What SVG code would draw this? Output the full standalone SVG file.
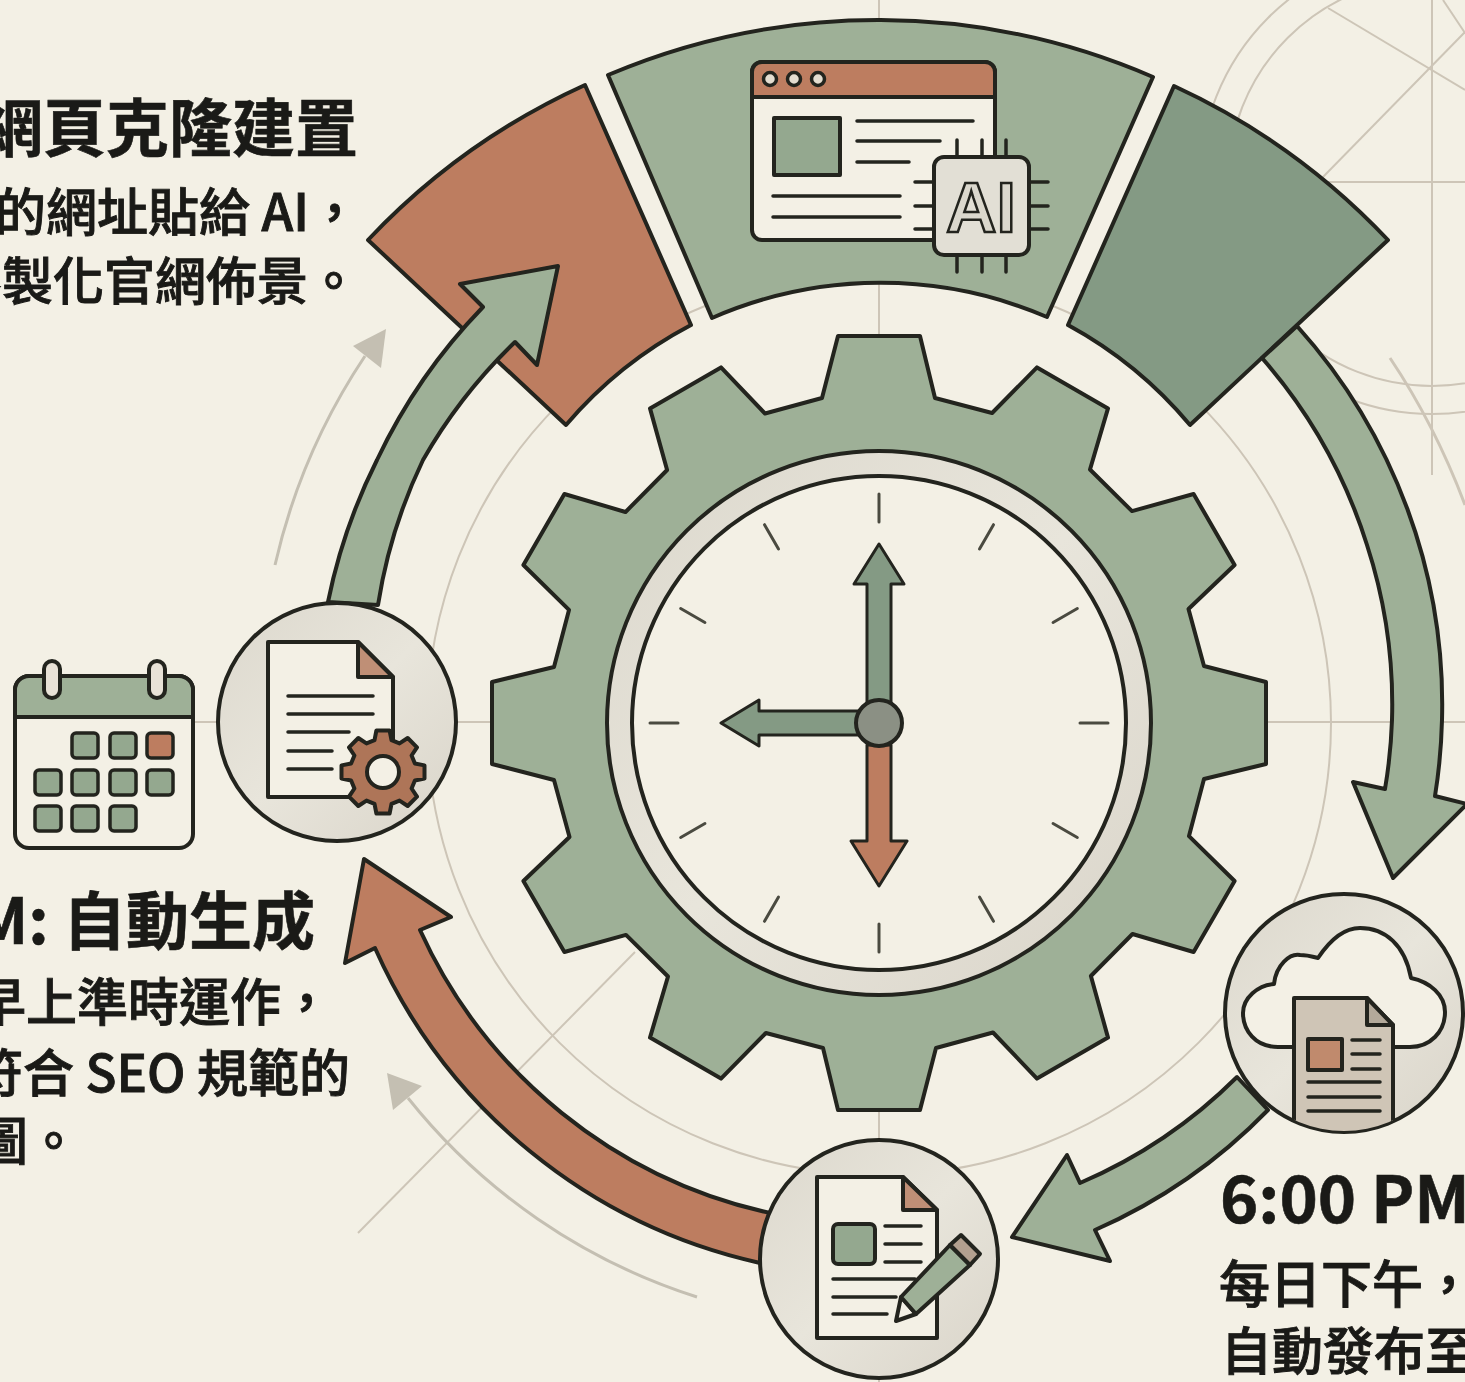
<svg xmlns="http://www.w3.org/2000/svg" width="1465" height="1382" viewBox="0 0 1465 1382">
<style>
.ln{fill:none;stroke:#23241e;stroke-width:3.5;stroke-linejoin:round;stroke-linecap:round}
.sh{stroke:#23241e;stroke-width:4;stroke-linejoin:round}
.thin{stroke-width:3}
.g{fill:#9eb097}.dg{fill:#849a84}.t{fill:#bd7d60}.p{fill:#f3f0e5}.disc{fill:url(#disc)}
.guide{fill:none;stroke:#cdc5b7;stroke-width:2}
.gr{fill:none;stroke:#c4bfb2;stroke-width:3}
.tick{stroke:#4a4a40;stroke-width:3;stroke-linecap:round}
text{font-family:"Noto Sans CJK TC","Liberation Sans",sans-serif;fill:#1a1a17}
.h{font-size:63px;font-weight:700;stroke:#1a1a17;stroke-width:.6}
.b{font-size:51px;font-weight:500;stroke:#1a1a17;stroke-width:.9}
.cell{stroke:#23241e;stroke-width:3.5;fill:#94a88f}
</style>
<defs>
<linearGradient id="disc" x1="0" y1="0" x2="1" y2="1"><stop offset="0" stop-color="#dcd8cd"/><stop offset=".5" stop-color="#e8e5db"/><stop offset="1" stop-color="#d9d4c9"/></linearGradient>
<clipPath id="cloudclip"><circle cx="1344" cy="1013" r="118"/></clipPath>
<line id="tk" x1="0" y1="-229" x2="0" y2="-201" class="tick"/>
</defs>
<rect width="1465" height="1382" class="p"/>
<g id="guides">
<circle cx="879" cy="723" r="452" class="guide"/>
<line x1="879" y1="0" x2="879" y2="1382" class="guide"/>
<line x1="190" y1="722" x2="1465" y2="722" class="guide"/>
<line x1="358" y1="1233" x2="635" y2="952" class="guide"/>
<circle cx="1432" cy="182" r="204" class="guide"/>
<circle cx="1432" cy="182" r="232" class="guide"/>
<line x1="1432" y1="0" x2="1432" y2="475" class="guide"/>
<line x1="1320" y1="182" x2="1465" y2="182" class="guide"/>
<line x1="1328" y1="8" x2="1465" y2="90" class="guide"/>
<line x1="1323" y1="177" x2="1465" y2="32" class="guide"/>
<line x1="1443" y1="0" x2="1465" y2="33" class="guide"/>
<path d="M1390,358 Q1435,425 1465,505" class="guide" style="stroke-width:3"/>
<path d="M275,565 A627 627 0 0 1 365,356" class="gr"/>
<path d="M386,329 L353,346 L381,368 Z" fill="#c4bfb2"/>
<path d="M697,1297 A603 603 0 0 1 408,1098" class="gr"/>
<path d="M387,1073 L422,1086 L393,1110 Z" fill="#c4bfb2"/>
</g>
<g id="sectors">
<path d="M368,240 A692 692 0 0 1 585,85 L691,325 A422 422 0 0 0 566,425 Z" class="t sh"/>
<path d="M608,75 A692 692 0 0 1 1153,77 L1047,317 A422 422 0 0 0 712,318 Z" class="g sh"/>
<path d="M1174,86 A692 692 0 0 1 1388,240 L1190,425 A422 422 0 0 0 1068,325 Z" class="dg sh"/>
</g>
<g id="browser-ai">
<rect x="752" y="62" width="243" height="178" rx="10" fill="#f3f0e5" class="sh"/>
<path d="M752,97 V72 a10,10 0 0 1 10,-10 H985 a10,10 0 0 1 10,10 V97 Z" class="t sh"/>
<circle cx="770" cy="79" r="6.5" class="ln" style="fill:#e4ddd0"/>
<circle cx="794" cy="79" r="6.5" class="ln" style="fill:#e4ddd0"/>
<circle cx="818" cy="79" r="6.5" class="ln" style="fill:#e4ddd0"/>
<rect x="774" y="118" width="66" height="57" class="g sh" style="fill:#94a88f"/>
<path d="M857,121 H973 M857,141 H940 M857,162 H909 M773,196 H900 M773,217 H900" class="ln"/>
<path d="M957,140 V157 M982,140 V157 M1006,140 V157 M957,255 V272 M982,255 V272 M1006,255 V272 M915,182 H934 M915,206 H934 M915,229 H934 M1029,182 H1048 M1029,206 H1048 M1029,229 H1048" class="ln"/>
<rect x="934" y="157" width="95" height="98" rx="10" fill="#e2dfd5" class="sh"/>
<text x="981" y="232" text-anchor="middle" style="font-family:'Liberation Sans',sans-serif;font-size:70px;font-weight:700;fill:#dbd8cd;stroke:#23241e;stroke-width:2.5">AI</text>
</g>
<g id="gear">
<polygon transform="translate(879,723)" class="g sh" points="-57,-325 -41,-387 41,-387 56,-325 113.1,-310 158,-355.6 229,-314.6 211,-253.5 253,-211.9 314.6,-229 355.6,-158 309.5,-114 325,-57 387,-41 387,41 325,56 310,113.1 355.6,158 314.6,229 253.5,211 211.9,253 229,314.6 158,355.6 114,309.5 57,325 41,387 -41,387 -56,325 -113.1,310 -158,355.6 -229,314.6 -211,253.5 -253,211.9 -314.6,229 -355.6,158 -309.5,114 -325,57 -387,41 -387,-41 -325,-56 -310,-113.1 -355.6,-158 -314.6,-229 -253.5,-211 -211.9,-253 -229,-314.6 -158,-355.6 -114,-309.5"/>
</g>
<g id="clock" transform="translate(879,723)">
<circle r="272" class="disc sh"/>
<circle r="247" class="p sh"/>
<use href="#tk"/><use href="#tk" transform="rotate(30)"/><use href="#tk" transform="rotate(60)"/><use href="#tk" transform="rotate(90)"/><use href="#tk" transform="rotate(120)"/><use href="#tk" transform="rotate(150)"/><use href="#tk" transform="rotate(180)"/><use href="#tk" transform="rotate(210)"/><use href="#tk" transform="rotate(240)"/><use href="#tk" transform="rotate(270)"/><use href="#tk" transform="rotate(300)"/><use href="#tk" transform="rotate(330)"/>
<path d="M-12,-20 V-139 H-25 L0,-179 L25,-139 H12 V-20 Z" class="dg sh thin"/>
<path d="M-20,-12 H-120 V-23 L-158,0 L-120,23 V12 H-20 Z" class="dg sh thin"/>
<path d="M-12,22 V118 H-28 L0,163 L28,118 H12 V22 Z" class="t sh thin"/>
<circle r="23" fill="#8b9084" class="sh"/>
</g>
<g id="connectors">
<path d="M1297,326 A566 566 0 0 1 1442,720 A566 566 0 0 1 1435,796 L1467,804 L1393,878 L1353,782 L1385,789 A515 515 0 0 0 1392,720 A515 515 0 0 0 1367,545 A520 520 0 0 0 1262,358 Z" class="g sh"/>
<path d="M1237,1077 A503 503 0 0 1 1080,1183 L1067,1155 L1012,1237 L1110,1261 L1095,1230 A550 550 0 0 0 1268,1110 Z" class="g sh"/>
<path d="M770,1213 A503 503 0 0 1 420,930 L451,917 L364,859 L345,963 L375,948 A552 552 0 0 0 760,1263 Z" class="t sh"/>
<path d="M328,602 A566 566 0 0 1 377,460 A570 570 0 0 1 483,307 L460,284 L558,266 L537,365 L515,342 A525 525 0 0 0 423,460 A520 520 0 0 0 378,605 Z" class="g sh"/>
</g>
<g id="calendar">
<rect x="15" y="676" width="178" height="172" rx="14" class="p sh"/>
<path d="M15,717 V690 a14,14 0 0 1 14,-14 H179 a14,14 0 0 1 14,14 V717 Z" class="g sh"/>
<rect x="44" y="661" width="16" height="37" rx="8" fill="#e8e2d7" class="sh"/>
<rect x="149" y="661" width="16" height="37" rx="8" fill="#e8e2d7" class="sh"/>
<rect x="72" y="733" width="26" height="25" rx="4" class="cell"/><rect x="110" y="733" width="26" height="25" rx="4" class="cell"/><rect x="147" y="733" width="26" height="25" rx="4" class="cell" style="fill:#bd7d60"/>
<rect x="35" y="770" width="26" height="25" rx="4" class="cell"/><rect x="72" y="770" width="26" height="25" rx="4" class="cell"/><rect x="110" y="770" width="26" height="25" rx="4" class="cell"/><rect x="147" y="770" width="26" height="25" rx="4" class="cell"/>
<rect x="35" y="806" width="26" height="25" rx="4" class="cell"/><rect x="72" y="806" width="26" height="25" rx="4" class="cell"/><rect x="110" y="806" width="26" height="25" rx="4" class="cell"/>
</g>
<g id="node-generate">
<circle cx="337" cy="722" r="119" class="disc sh"/>
<path d="M268,642 H358 L393,677 V797 H268 Z" class="p sh"/>
<path d="M358,642 L393,677 H358 Z" fill="#bf8f76" class="sh"/>
<path d="M288,696 H373 M288,714 H373 M288,732 H349 M288,751 H332 M288,769 H332" class="ln"/>
<polygon transform="translate(383,772)" fill="#ae7558" class="sh" points="-8.5,-31.9 -6.6,-41.5 6.6,-41.5 8.5,-31.9 16.5,-28.6 24.7,-34 34,-24.7 28.6,-16.5 31.9,-8.5 41.5,-6.6 41.5,6.6 31.9,8.5 28.6,16.5 34,24.7 24.7,34 16.5,28.6 8.5,31.9 6.6,41.5 -6.6,41.5 -8.5,31.9 -16.5,28.6 -24.7,34 -34,24.7 -28.6,16.5 -31.9,8.5 -41.5,6.6 -41.5,-6.6 -31.9,-8.5 -28.6,-16.5 -34,-24.7 -24.7,-34 -16.5,-28.6"/>
<circle cx="383" cy="772" r="16" class="p sh"/>
</g>
<g id="node-publish">
<circle cx="1344" cy="1013" r="119" class="disc sh"/>
<path d="M1295,1047 H1278 C1255,1047 1243,1030 1243,1013 C1243,998 1258,985 1274,984 C1276,965 1290,953 1300,955 C1308,955 1314,957 1318,958 C1330,940 1345,928 1360,928 C1385,928 1405,945 1411,978 C1430,982 1445,995 1445,1012 C1445,1032 1430,1047 1410,1047 H1390" class="p sh"/>
<g clip-path="url(#cloudclip)">
<path d="M1294,998 H1367 L1393,1025 V1140 H1294 Z" fill="#cfc5b6" class="sh"/>
<path d="M1367,998 L1393,1025 H1367 Z" fill="#b3a99a" class="sh"/>
<rect x="1308" y="1039" width="34" height="31" class="sh" style="fill:#c08a6d"/>
<path d="M1352,1040 H1380 M1352,1054 H1380 M1352,1069 H1380 M1308,1082 H1380 M1308,1097 H1380 M1308,1111 H1380" class="ln"/>
</g>
</g>
<g id="node-draft">
<circle cx="879" cy="1259" r="119" class="disc sh"/>
<path d="M817,1177 H903 L937,1210 V1338 H817 Z" class="p sh"/>
<path d="M903,1177 L937,1210 H903 Z" fill="#bf8f76" class="sh"/>
<rect x="833" y="1224" width="42" height="40" rx="5" fill="#94a88f" class="sh"/>
<path d="M885,1226 H921 M885,1244 H921 M885,1262 H921 M833,1279 H915 M833,1297 H896 M833,1314 H887" class="ln"/>
<path d="M901,1297 L916,1314 L896,1321 Z" class="p sh"/>
<path d="M901,1297 L950,1245 L970,1265 L916,1314 Z" class="g sh"/>
<path d="M950,1245 L961,1235 L980,1254 L970,1265 Z" fill="#b3a08f" class="sh"/>
</g>
<g id="labels">
<text x="358" y="151" text-anchor="end" class="h">網頁克隆建置</text>
<text x="360" y="231" text-anchor="end" class="b">的網址貼給 AI，</text>
<text x="359" y="300" text-anchor="end" class="b">客製化官網佈景。</text>
<text x="315" y="944" text-anchor="end" class="h">M: 自動生成</text>
<text x="332" y="1021" text-anchor="end" class="b">早上準時運作，</text>
<text x="350" y="1092" text-anchor="end" class="b">符合 SEO 規範的</text>
<text x="79" y="1160" text-anchor="end" class="b">圖。</text>
<text x="1220" y="1223" class="h" style="font-size:65px">6:00 PM</text>
<text x="1219" y="1303" class="b">每日下午，</text>
<text x="1221" y="1370" class="b">自動發布至</text>
</g>
</svg>
